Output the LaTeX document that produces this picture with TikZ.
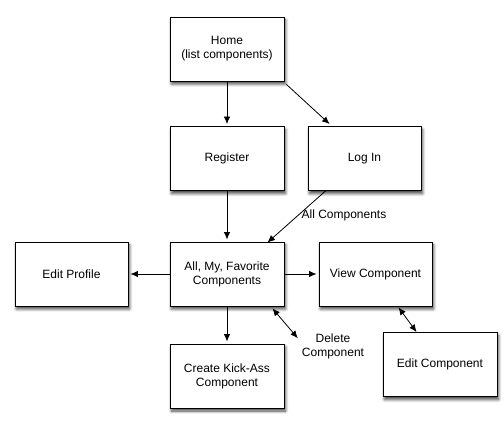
\documentclass[tikz,border=0pt]{standalone}
\usepackage{fontspec}
\setmainfont{Liberation Sans}
\usetikzlibrary{arrows.meta,shadows.blur,calc}
\begin{document}
\begin{tikzpicture}[x=1pt,y=1pt,
  box/.style={draw=black, line width=0.9pt, fill=white, minimum width=114pt, minimum height=64pt,
    align=center, font=\fontsize{12}{14}\selectfont, inner sep=0pt,
    blur shadow={shadow xshift=1.5pt, shadow yshift=-3pt, shadow blur steps=6, shadow blur radius=3pt, shadow opacity=75}},
  lbl/.style={align=center, font=\fontsize{12}{14}\selectfont, inner sep=0pt},
  conn/.style={line width=0.8pt, -{Latex[length=7.5pt,width=6.5pt]}},
  dconn/.style={line width=0.8pt, {Latex[length=7.5pt,width=6.5pt]}-{Latex[length=7.5pt,width=6.5pt]}}]
\useasboundingbox (0,0) rectangle (504,432);
\node[box] (home) at (227,383) {Home\\(list components)};
\node[box] (register) at (227,273.5) {Register};
\node[box, minimum width=113pt] (login) at (364.5,273.5) {Log In};
\node[box] (all) at (227,158) {All, My, Favorite\\Components};
\node[box, minimum width=113pt] (view) at (375.5,158) {View Component};
\node[box, minimum width=113pt] (profile) at (71.5,158) {Edit Profile};
\node[box] (create) at (227,56) {Create Kick-Ass\\Component};
\node[box] (editc) at (440,67.5) {Edit Component};
\node[lbl] (allc) at (344,217) {All Components};
\node[lbl] (del) at (333,86) {Delete\\Component};
\coordinate (homese) at ($(home.south east)+(2,-3)$);
\coordinate (loginn) at ($(login.north west)+(22,2)$);
\coordinate (logins) at ($(login.south west)+(18,0)$);
\coordinate (alln) at ($(all.north east)+(-17,-1)$);
\coordinate (allse) at ($(all.south east)+(-12,-2)$);
\coordinate (delnw) at ($(del.north west)+(-4,-5)$);
\coordinate (views) at ($(view.south west)+(80,-1)$);
\coordinate (editn) at ($(editc.north west)+(34,0)$);
\draw[conn] (home.south) -- ([yshift=2pt]register.north);
\draw[conn] (homese) -- (loginn);
\draw[conn] (register.south) -- ([yshift=2pt]all.north);
\draw[conn] (logins) -- (alln);
\draw[conn] (all.west) -- ([xshift=2pt]profile.east);
\draw[conn] (all.east) -- ([xshift=-2pt]view.west);
\draw[conn] (all.south) -- ([yshift=2pt]create.north);
\draw[dconn] (allse) -- (delnw);
\draw[dconn] (views) -- (editn);
\end{tikzpicture}
\end{document}
